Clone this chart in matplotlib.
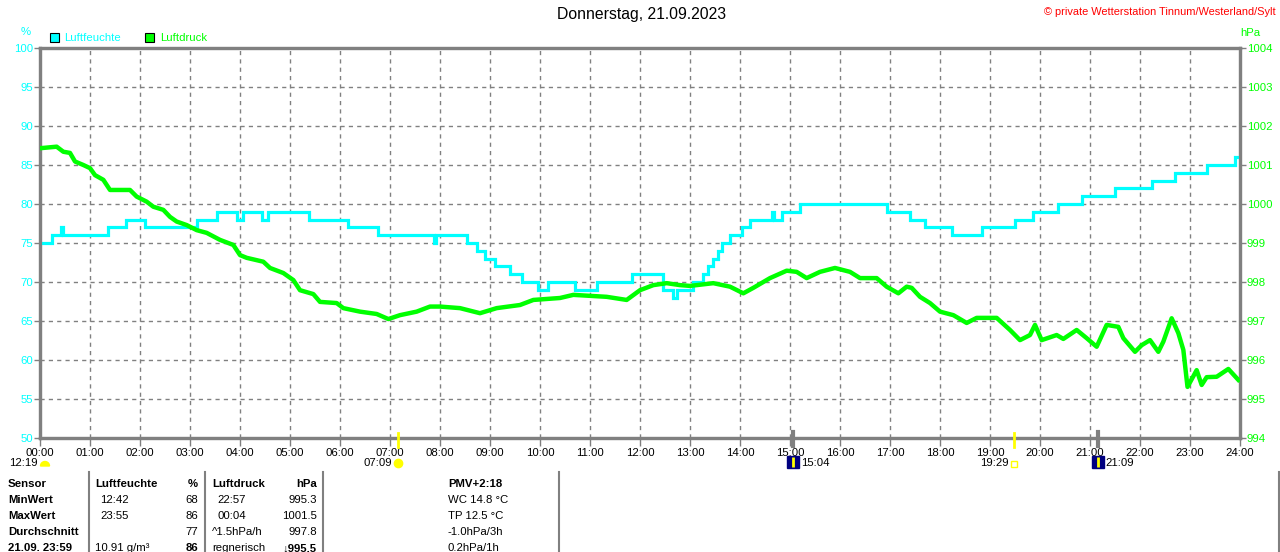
import numpy as np
import matplotlib.pyplot as plt
from matplotlib.patches import Rectangle, Wedge
from matplotlib.transforms import blended_transform_factory

plt.rcParams['font.family'] = ['Liberation Sans', 'DejaVu Sans']

# Luftfeuchte in %, Stufen (Minute des Tages, Wert)
rh_min = [0, 14, 25, 27, 82, 103, 126, 188, 212, 236, 244, 266, 274, 323, 370, 406,
          473, 475, 512, 524, 534, 546, 564, 578, 598, 610, 642, 668, 710, 748, 760,
          764, 784, 796, 802, 808, 814, 818, 828, 842, 852, 878, 881, 890, 912, 1016,
          1044, 1062, 1094, 1130, 1170, 1192, 1222, 1250, 1290, 1334, 1362, 1400, 1434, 1440]
rh_val = [75, 76, 77, 76, 77, 78, 77, 78, 79, 78, 79, 78, 79, 78, 77, 76,
          75, 76, 75, 74, 73, 72, 71, 70, 69, 70, 69, 70, 71, 69, 68,
          69, 70, 71, 72, 73, 74, 75, 76, 77, 78, 79, 78, 79, 80, 79,
          78, 77, 76, 77, 78, 79, 80, 81, 82, 83, 84, 85, 86, 86]

# Luftdruck in hPa (Minute des Tages, Wert)
p_min = [0, 20, 28, 36, 42, 52, 60, 66, 76, 84, 108, 116, 128, 136, 148, 156, 164, 176,
         188, 200, 216, 232, 240, 248, 268, 276, 292, 304, 312, 328, 336, 356, 364, 384,
         404, 418, 432, 452, 468, 480, 504, 528, 548, 576, 592, 624, 640, 680, 704, 720,
         736, 752, 768, 780, 808, 828, 844, 856, 876, 896, 908, 920, 936, 954, 972, 984,
         1004, 1016, 1030, 1040, 1046, 1056, 1068, 1080, 1096, 1112, 1124, 1148, 1164,
         1176, 1188, 1194, 1202, 1220, 1228, 1244, 1256, 1268, 1280, 1294, 1300, 1314,
         1322, 1332, 1342, 1348, 1358, 1366, 1372, 1377, 1388, 1394, 1400, 1412, 1426, 1438]
p_val = [1001.43, 1001.47, 1001.34, 1001.31, 1001.09, 1001.0, 1000.92, 1000.74, 1000.62,
         1000.36, 1000.36, 1000.19, 1000.06, 999.93, 999.85, 999.67, 999.55, 999.46,
         999.33, 999.26, 999.08, 998.95, 998.69, 998.62, 998.52, 998.36, 998.23, 998.05,
         997.79, 997.69, 997.49, 997.46, 997.33, 997.24, 997.18, 997.05, 997.15, 997.24,
         997.37, 997.37, 997.33, 997.2, 997.33, 997.41, 997.54, 997.59, 997.67, 997.62,
         997.54, 997.79, 997.92, 997.97, 997.92, 997.9, 997.97, 997.88, 997.71, 997.85,
         998.1, 998.29, 998.26, 998.1, 998.26, 998.36, 998.26, 998.1, 998.1, 997.88,
         997.71, 997.88, 997.85, 997.62, 997.46, 997.24, 997.15, 996.95, 997.08, 997.08,
         996.77, 996.51, 996.64, 996.9, 996.51, 996.64, 996.54, 996.77, 996.56, 996.34,
         996.9, 996.85, 996.56, 996.21, 996.38, 996.51, 996.21, 996.47, 997.07, 996.69,
         996.26, 995.31, 995.74, 995.36, 995.56, 995.57, 995.77, 995.49]

hour_labels = ['%02d:00' % h for h in range(25)]
rh_ticks = list(range(50, 101, 5))
p_ticks = list(range(994, 1005))

# Sonne / Ereignisse auf der Zeitachse
sun_times = ['07:09', '19:29']
tide_times = ['15:04', '21:09']
moon_time = '12:19'

# Tabelle unten
table_rows = [
    ['Sensor', 'Luftfeuchte', '%', 'Luftdruck', 'hPa', 'PMV+2:18'],
    ['MinWert', '12:42', '68', '22:57', '995.3', 'WC 14.8 °C'],
    ['MaxWert', '23:55', '86', '00:04', '1001.5', 'TP 12.5 °C'],
    ['Durchschnitt', '', '77', '^1.5hPa/h', '997.8', '-1.0hPa/3h'],
    ['21.09. 23:59', '10.91 g/m³', '86', 'regnerisch', '↓995.5', '0.2hPa/1h'],
]


def to_min(s):
    hh, mm = s.split(':')
    return int(hh) * 60 + int(mm)


W, H = 1280, 552
GREY = '#808080'
CYAN = '#00FFFF'
GREEN = '#00FF00'
fs = 8.2

fig = plt.figure(figsize=(W / 100, H / 100), dpi=100)
ax = fig.add_axes([40 / W, 1 - 438 / H, 1200 / W, 390 / H])
ax2 = ax.twinx()

ax.step(rh_min, rh_val, where='post', color=CYAN, lw=2.3, solid_joinstyle='miter', zorder=3)
ax2.plot(p_min, p_val, color=GREEN, lw=3.2, zorder=4)

ax.set_xlim(0, 1440)
ax.set_ylim(50, 100)
ax2.set_ylim(994, 1004)

ax.set_xticks(range(0, 1441, 60))
ax.set_xticklabels(hour_labels)
ax.set_yticks(rh_ticks)
ax2.set_yticks(p_ticks)
ax.grid(True, color=GREY, linestyle=(0, (3, 3)), lw=1.0)

for a in (ax, ax2):
    for sp in a.spines.values():
        sp.set_color(GREY)
        sp.set_linewidth(2.3)
ax.tick_params(axis='x', length=6, width=1, color=GREY, labelcolor='black', labelsize=fs, pad=1.5)
ax.tick_params(axis='y', length=4, width=1, color=GREY, labelcolor=CYAN, labelsize=fs, pad=1)
ax2.tick_params(axis='y', length=4, width=1, color=GREY, labelcolor=GREEN, labelsize=fs, pad=1)

# Overlay in Pixelkoordinaten
ov = fig.add_axes([0, 0, 1, 1], facecolor='none')
ov.set_xlim(0, W)
ov.set_ylim(H, 0)
ov.axis('off')
tr = blended_transform_factory(ax.transData, ov.transData)

ov.text(642, 15, 'Donnerstag, 21.09.2023', ha='center', va='center', fontsize=11.3)
ov.text(1276, 12, '© private Wetterstation Tinnum/Westerland/Sylt', ha='right', va='center',
        fontsize=7.9, color='red')
ov.text(26, 32, '%', ha='center', va='center', fontsize=fs, color=CYAN)
ov.text(1250, 33, 'hPa', ha='center', va='center', fontsize=fs, color=GREEN)

ov.add_patch(Rectangle((50, 33), 9, 9, facecolor=CYAN, edgecolor='black', lw=0.8))
ov.text(64, 38, 'Luftfeuchte', va='center', fontsize=fs, color=CYAN)
ov.add_patch(Rectangle((145, 33), 9, 9, facecolor=GREEN, edgecolor='black', lw=0.8))
ov.text(160, 38, 'Luftdruck', va='center', fontsize=fs, color=GREEN)

# Sonnenauf-/untergang
for i, t in enumerate(sun_times):
    m = to_min(t)
    ov.plot([m, m], [433, 447], color='yellow', lw=2, transform=tr, zorder=5)
    ov.annotate(t, (m, 463), xycoords=tr, xytext=(-5, 0), textcoords='offset pixels',
                ha='right', va='center', fontsize=fs)
    if i == 0:
        ov.plot([m], [463], marker='o', ms=6, color='yellow', transform=tr)
    else:
        ov.plot([m], [464], marker='s', ms=5, mfc='none', mec='yellow', mew=1, transform=tr)

# Gezeiten
for t in tide_times:
    m = to_min(t)
    ov.plot([m, m], [432, 446], color=GREY, lw=3, transform=tr, zorder=5)
    ov.plot([m], [462], marker='s', ms=8, color='#000080', transform=tr)
    ov.plot([m], [462], marker='|', ms=7, mew=2, color='yellow', transform=tr)
    ov.annotate(t, (m, 463), xycoords=tr, xytext=(8, 0), textcoords='offset pixels',
                ha='left', va='center', fontsize=fs)

# Mond
ov.text(38, 463, moon_time, ha='right', va='center', fontsize=fs)
ov.add_patch(Wedge((45, 466), 4.5, 180, 360, color='yellow'))

# Tabelle
row_y = [484, 500, 516, 532, 548]
col_x = [8, 95, 198, 212, 317, 448]
col_ha = ['left', 'left', 'right', 'left', 'right', 'left']
for r, (y, row) in enumerate(zip(row_y, table_rows)):
    for c, txt in enumerate(row):
        x = col_x[c]
        if r in (1, 2) and c in (1, 3):
            x += 5
        bold = r == 0 or c == 0 or (r == 4 and c in (2, 4))
        ov.text(x, y, txt, ha=col_ha[c], va='center', fontsize=fs,
                fontweight='bold' if bold else 'normal')
for x in (89, 205, 323, 559, 1279):
    ov.plot([x, x], [472, 552], color=GREY, lw=1.5)

fig.savefig('out.png', dpi=100, facecolor='white')
